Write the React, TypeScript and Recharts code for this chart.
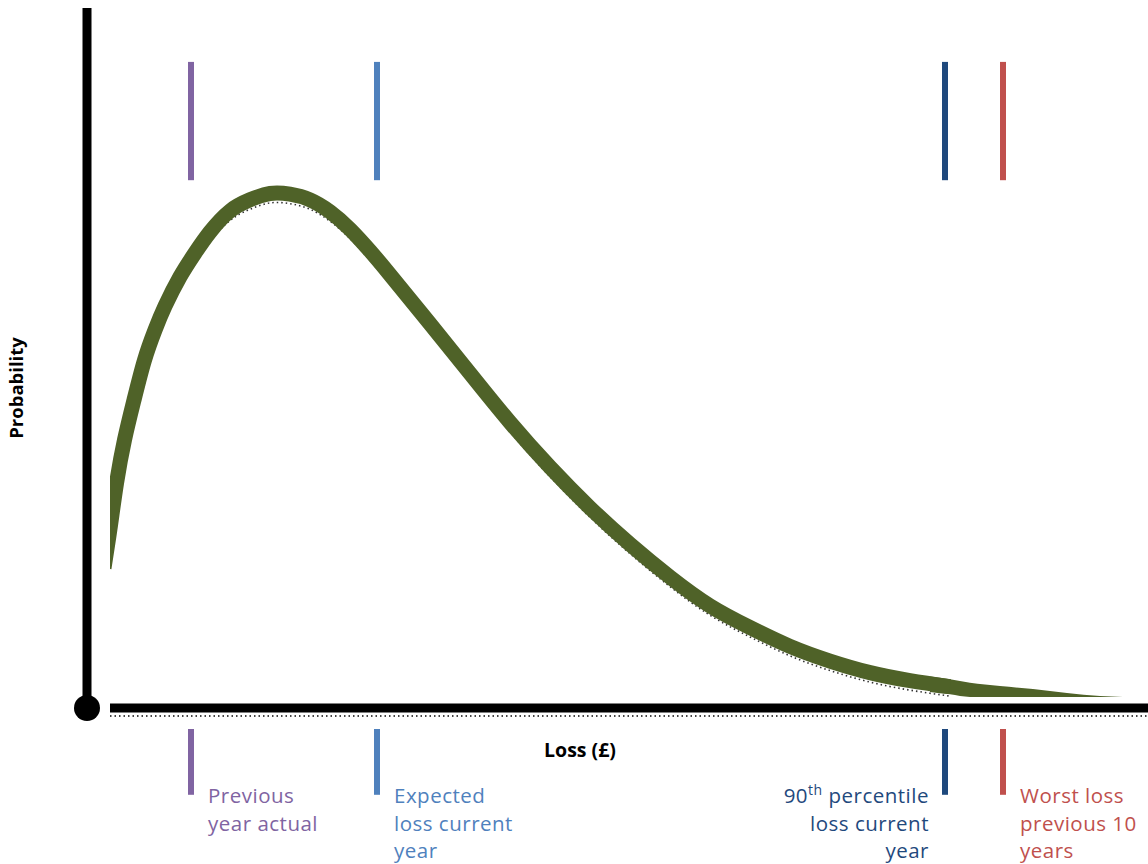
import React from "react";
import {
  ComposedChart,
  Area,
  Line,
  XAxis,
  YAxis,
  ReferenceLine,
  ReferenceDot,
} from "recharts";

// Loss axis values (£, arbitrary units) along the distribution curve
const lossValues = [
  -0.6, 0, 0.65, 1.45, 2.4, 3.45, 4.5, 5.5, 7.0, 8.5, 10, 12, 14, 16, 18, 20,
  22, 24, 26, 28, 32, 36, 40, 44, 48, 52, 56, 60, 64, 68, 72, 76, 80, 84,
];
// Probability (centre of the thick curve)
const probability = [
  20.0, 25.6, 32.1, 38.3, 44.0, 49.7, 54.0, 57.4, 61.6, 65.0, 68.0, 71.0, 72.6,
  73.5, 73.4, 72.6, 70.9, 68.4, 65.3, 61.9, 54.9, 47.8, 40.8, 34.4, 28.6, 23.4,
  18.7, 14.6, 11.5, 8.8, 6.7, 5.05, 3.9, 3.05,
];
// Tapering tail of the curve (low / high edge)
const tailLoss = [82.0, 84.0, 86.0, 89.0, 92.3, 95.7, 99.0, 101.3];
const tailLow = [2.3, 1.95, 1.57, 1.57, 1.57, 1.57, 1.57, 1.57];
const tailHigh = [4.5, 4.1, 3.6, 3.14, 2.71, 2.14, 1.71, 1.57];

// Marker positions on the loss axis
const markerLoss = [8.1, 26.7, 83.5, 89.3];
const markerColors = ["#8064A2", "#4F81BD", "#1F497D", "#C0504D"];
const markerLines: string[][] = [
  ["Previous", "year actual"],
  ["Expected", "loss current", "year"],
  ["90|th| percentile", "loss current", "year"],
  ["Worst loss", "previous 10", "years"],
];
const markerAlign = ["start", "start", "end", "start"];

const LOSS_MIN = -2.3;
const LOSS_MAX = 103.8;
const TOP_MARK = [75.4, 92.3];
const BOTTOM_MARK = [-12.4, -3.0];

const curveData = lossValues.map((x, i) => ({ x, p: probability[i], shadow: probability[i] - 1.35 }));
const tailData = tailLoss.map((x, i) => ({ x, band: [tailLow[i], tailHigh[i]] }));

const FONT = "'Open Sans', 'DejaVu Sans', sans-serif";
const GREEN = "#4F6228";

function rectOf(vb: any) {
  if (!vb) return { x: 0, y: 0, width: 0, height: 0 };
  if (vb.x1 !== undefined) {
    return {
      x: Math.min(vb.x1, vb.x2),
      y: Math.min(vb.y1, vb.y2),
      width: Math.abs(vb.x2 - vb.x1),
      height: Math.abs(vb.y2 - vb.y1),
    };
  }
  return vb;
}

function MarkerLabel(props: any) {
  const { viewBox, lines, color, align } = props;
  const r = rectOf(viewBox);
  const cx = r.x + r.width / 2;
  const x = align === "end" ? cx - 16 : cx + 17;
  const y0 = r.y + 74;
  return (
    <text
      x={x}
      y={y0}
      fill={color}
      fontSize={20.5}
      letterSpacing={0.5}
      fontFamily={FONT}
      textAnchor={align}
    >
      {lines.map((ln: string, i: number) => {
        if (ln.includes("|")) {
          const [a, sup, b] = ln.split("|");
          return (
            <tspan key={i} x={x} y={y0 + i * 27.5}>
              {a}
              <tspan fontSize={14} dy={-8}>
                {sup}
              </tspan>
              <tspan dy={8}>{b}</tspan>
            </tspan>
          );
        }
        return (
          <tspan key={i} x={x} y={y0 + i * 27.5}>
            {ln}
          </tspan>
        );
      })}
    </text>
  );
}

function XTitle(props: any) {
  const r = rectOf(props.viewBox);
  return (
    <text
      x={r.x + 470}
      y={r.y + 49}
      textAnchor="middle"
      fontSize={19.5}
      fontWeight="bold"
      fontFamily={FONT}
      fill="#000"
    >
      Loss (£)
    </text>
  );
}

function YTitle(props: any) {
  const r = rectOf(props.viewBox);
  const x = r.x - 64;
  const y = r.y + 380;
  return (
    <text
      x={x}
      y={y}
      textAnchor="middle"
      fontSize={18.5}
      fontWeight="bold"
      fontFamily={FONT}
      fill="#000"
      transform={`rotate(-90, ${x}, ${y})`}
    >
      Probability
    </text>
  );
}

export default function App() {
  return (
    <div style={{ position: "absolute", left: 0, top: 0, width: 1148, height: 864, background: "#fff" }}>
      <ComposedChart
        width={1148}
        height={864}
        margin={{ top: 8, right: 0, left: 110, bottom: 0 }}
      >
        <XAxis
          type="number"
          dataKey="x"
          domain={[0, LOSS_MAX]}
          allowDataOverflow
          height={156}
          tick={false}
          tickLine={false}
          axisLine={false}
          label={<XTitle />}
        />
        <YAxis type="number" domain={[0, 100]} allowDataOverflow hide />
        <Line
          data={curveData}
          type="natural"
          dataKey="shadow"
          stroke="#333"
          strokeWidth={1.6}
          strokeDasharray="1.5 3"
          dot={false}
          activeDot={false}
          isAnimationActive={false}
        />
        <Area
          data={tailData}
          type="monotone"
          dataKey="band"
          stroke="none"
          fill={GREEN}
          fillOpacity={1}
          isAnimationActive={false}
          dot={false}
          activeDot={false}
        />
        <Line
          data={curveData}
          type="natural"
          dataKey="p"
          stroke={GREEN}
          strokeWidth={15}
          dot={false}
          activeDot={false}
          isAnimationActive={false}
        />
        <ReferenceLine
          segment={[
            { x: LOSS_MIN, y: 0 },
            { x: LOSS_MIN, y: 100 },
          ]}
          stroke="#000"
          strokeWidth={9}
          ifOverflow="visible"
          label={<YTitle />}
        />
        <ReferenceLine
          segment={[
            { x: 0, y: -1.15 },
            { x: LOSS_MAX, y: -1.15 },
          ]}
          stroke="#444"
          strokeWidth={2}
          strokeDasharray="1.5 3"
          ifOverflow="visible"
        />
        <ReferenceLine
          segment={[
            { x: 0, y: 0 },
            { x: LOSS_MAX, y: 0 },
          ]}
          stroke="#000"
          strokeWidth={9}
          ifOverflow="visible"
        />
        <ReferenceDot x={LOSS_MIN} y={0} r={13} fill="#000" stroke="none" ifOverflow="visible" />
        {markerLoss.map((m, i) => (
          <ReferenceLine
            key={`t${i}`}
            segment={[
              { x: m, y: TOP_MARK[0] },
              { x: m, y: TOP_MARK[1] },
            ]}
            stroke={markerColors[i]}
            strokeWidth={6}
            ifOverflow="visible"
          />
        ))}
        {markerLoss.map((m, i) => (
          <ReferenceLine
            key={`b${i}`}
            segment={[
              { x: m, y: BOTTOM_MARK[0] },
              { x: m, y: BOTTOM_MARK[1] },
            ]}
            stroke={markerColors[i]}
            strokeWidth={6}
            ifOverflow="visible"
            label={
              <MarkerLabel
                lines={markerLines[i]}
                color={markerColors[i]}
                align={markerAlign[i]}
              />
            }
          />
        ))}
      </ComposedChart>
    </div>
  );
}
